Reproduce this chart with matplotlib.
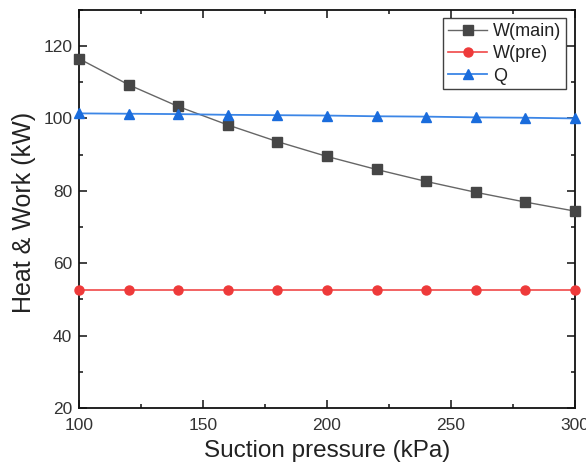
import matplotlib
matplotlib.use("Agg")
import matplotlib.pyplot as plt
from matplotlib.ticker import MultipleLocator

plt.rcParams['font.family'] = ['Liberation Sans', 'DejaVu Sans']

suction_kpa = [100, 120, 140, 160, 180, 200, 220, 240, 260, 280, 300]
w_main = [116.5, 109.3, 103.3, 98.2, 93.6, 89.5, 85.9, 82.6, 79.6, 76.9, 74.4]
w_pre = [52.6, 52.6, 52.6, 52.6, 52.6, 52.6, 52.6, 52.6, 52.6, 52.6, 52.6]
q_heat = [101.4, 101.3, 101.2, 101.0, 100.9, 100.8, 100.6, 100.5, 100.3, 100.2, 100.0]

fig = plt.figure(figsize=(5.86, 4.69), dpi=100)
ax = fig.add_axes([0.135, 0.130, 0.846, 0.849])

ax.plot(suction_kpa, w_main, color='#666666', lw=1.0, marker='s', ms=6.5,
        mfc='#464646', mec='#464646', label='W(main)', clip_on=False, zorder=3)
ax.plot(suction_kpa, w_pre, color='#F04848', lw=1.2, marker='o', ms=6.5,
        mfc='#EE3A3A', mec='#EE3A3A', label='W(pre)', clip_on=False, zorder=3)
ax.plot(suction_kpa, q_heat, color='#3C86E6', lw=1.3, marker='^', ms=7.5,
        mfc='#1A6CDC', mec='#1A6CDC', label='Q', clip_on=False, zorder=4)

ax.set_xlim(100, 300)
ax.set_ylim(20, 130)
ax.xaxis.set_major_locator(MultipleLocator(50))
ax.xaxis.set_minor_locator(MultipleLocator(25))
ax.yaxis.set_major_locator(MultipleLocator(20))
ax.yaxis.set_minor_locator(MultipleLocator(10))

ax.tick_params(which='both', direction='in', top=True, right=True,
               width=1.2, colors='#222222', labelcolor='#333333', labelsize=12.5)
ax.tick_params(which='major', length=6)
ax.tick_params(which='minor', length=3)
ax.tick_params(axis='x', pad=7)
ax.tick_params(axis='y', pad=5)
for s in ax.spines.values():
    s.set_linewidth(1.3)
    s.set_color('#111111')

ax.set_xlabel('Suction pressure (kPa)', fontsize=17.5, color='#222222', labelpad=5)
ax.set_ylabel('Heat & Work (kW)', fontsize=18, color='#222222')
ax.yaxis.set_label_coords(-0.087, 0.49)

leg = ax.legend(loc='upper right', bbox_to_anchor=(0.985, 0.983), fontsize=13,
                frameon=True, fancybox=False, edgecolor='#111111',
                handlelength=2.2, borderpad=0.25, labelspacing=0.3,
                handletextpad=0.3, borderaxespad=0.1)
leg.get_frame().set_linewidth(1.0)
for t in leg.get_texts():
    t.set_color('#222222')

fig.savefig('out.png', dpi=100)
